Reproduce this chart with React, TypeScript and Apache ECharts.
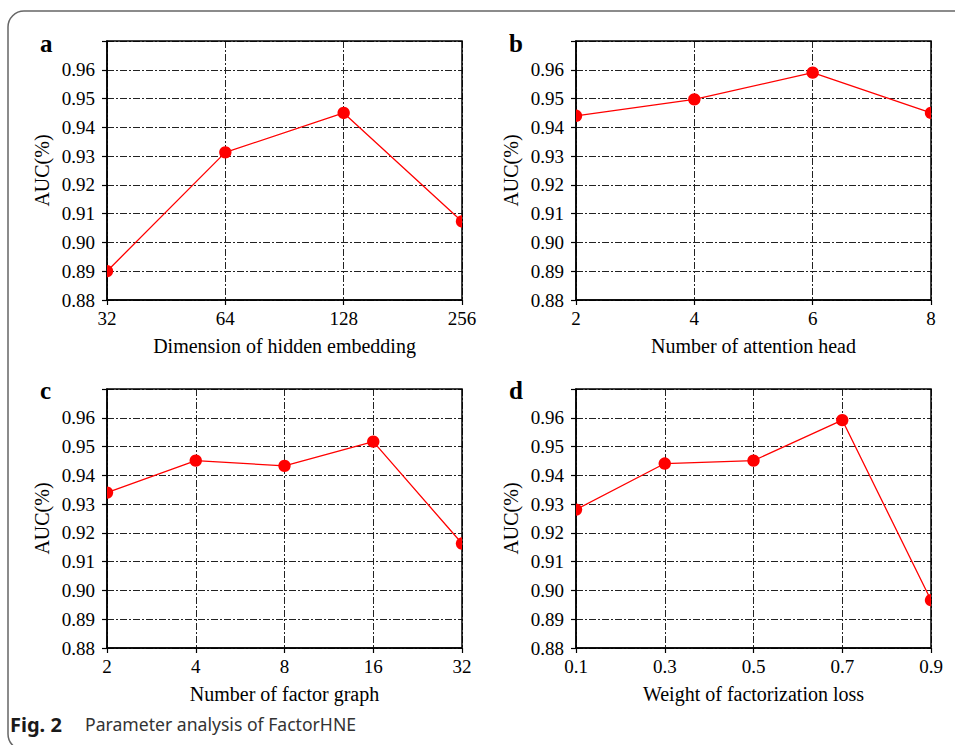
import React, { useEffect, useRef } from "react";
import * as echarts from "echarts";

const aCats = ["32", "64", "128", "256"];
const aVals = [0.89, 0.9313, 0.945, 0.9073];
const bCats = ["2", "4", "6", "8"];
const bVals = [0.944, 0.9497, 0.959, 0.945];
const cCats = ["2", "4", "8", "16", "32"];
const cVals = [0.934, 0.9451, 0.9433, 0.9517, 0.9163];
const dCats = ["0.1", "0.3", "0.5", "0.7", "0.9"];
const dVals = [0.9281, 0.9441, 0.9451, 0.9592, 0.8966];

const xNames = [
  "Dimension of hidden embedding",
  "Number of attention head",
  "Number of factor graph",
  "Weight of factorization loss",
];
const panelLetters = ["a", "b", "c", "d"];
const yMin = 0.88;
const yMax = 0.97;
const yStep = 0.01;

const SERIF = "'Liberation Serif', 'DejaVu Serif', serif";
const SANS = "'Noto Sans', 'Open Sans', sans-serif";

export default function App() {
  const ref = useRef<HTMLDivElement>(null);
  useEffect(() => {
    if (!ref.current) return;
    const chart = echarts.init(ref.current, null, { renderer: "svg" });
    const cats = [aCats, bCats, cCats, dCats];
    const vals = [aVals, bVals, cVals, dVals];
    const grids = [
      { left: 107, top: 41, width: 355, height: 259 },
      { left: 576, top: 41, width: 355, height: 259 },
      { left: 107, top: 389, width: 355, height: 259 },
      { left: 576, top: 389, width: 355, height: 259 },
    ];
    const gridLine = {
      show: true,
      lineStyle: { color: "#222", width: 1, type: [7, 2, 2, 2] as any },
    };
    const option: any = {
      animation: false,
      grid: grids.map((g) => ({
        ...g,
        show: true,
        borderColor: "#000",
        borderWidth: 1.5,
        backgroundColor: "transparent",
        z: 3,
      })),
      xAxis: cats.map((c, i) => ({
        type: "category",
        gridIndex: i,
        data: c,
        boundaryGap: false,
        name: xNames[i],
        nameLocation: "middle",
        nameGap: 36,
        nameTextStyle: { fontFamily: SERIF, fontSize: 20, color: "#000" },
        axisLine: { show: true, lineStyle: { color: "#000", width: 1.5 } },
        axisTick: { show: true, inside: false, length: 5, lineStyle: { color: "#000", width: 1.2 } },
        axisLabel: { fontFamily: SERIF, fontSize: 19, color: "#000", margin: 9, showMaxLabel: true, showMinLabel: true, interval: 0 },
        splitLine: gridLine,
      })),
      yAxis: cats.map((_, i) => ({
        type: "value",
        gridIndex: i,
        min: yMin,
        max: yMax,
        interval: yStep,
        name: "AUC(%)",
        nameLocation: "middle",
        nameGap: 55,
        nameTextStyle: { fontFamily: SERIF, fontSize: 20, color: "#000" },
        axisLine: { show: true, lineStyle: { color: "#000", width: 1.5 } },
        axisTick: { show: true, inside: false, length: 5, lineStyle: { color: "#000", width: 1.2 } },
        axisLabel: {
          fontFamily: SERIF,
          fontSize: 19,
          color: "#000",
          margin: 12,
          formatter: (v: number) => (v > yMax - yStep / 2 ? "" : v.toFixed(2)),
        },
        splitLine: gridLine,
      })),
      series: [
        ...vals.map((v, i) => ({
          type: "line",
          xAxisIndex: i,
          yAxisIndex: i,
          data: v,
          showSymbol: false,
          symbol: "none",
          clip: true,
          lineStyle: { color: "#ff0000", width: 1.3 },
          z: 4,
        })),
        ...vals.map((v, i) => ({
          type: "custom",
          xAxisIndex: i,
          yAxisIndex: i,
          clip: true,
          data: v.map((y, k) => [k, y]),
          encode: { x: 0, y: 1 },
          renderItem: (params: any, api: any) => {
            const p = api.coord([api.value(0), api.value(1)]);
            return {
              type: "circle",
              shape: { cx: p[0], cy: p[1], r: 6.2 },
              style: { fill: "#ff0000", stroke: "none" },
            };
          },
          z: 5,
        })),
      ],
      graphic: [
        {
          type: "rect",
          shape: { x: 8, y: 11, width: 1200, height: 739, r: 16 },
          style: { fill: "none", stroke: "#666", lineWidth: 1.5 },
          silent: true,
        },
        ...panelLetters.map((t, i) => ({
          type: "text",
          x: i % 2 === 0 ? 40 : 509,
          y: i < 2 ? 31 : 378,
          style: {
            text: t,
            font: `bold 25px ${SERIF}`,
            fill: "#000",
          },
        })),
        {
          type: "text",
          x: 10,
          y: 714,
          style: { text: "Fig. 2", font: `bold 20px ${SANS}`, fill: "#1a1a1a" },
        },
        {
          type: "text",
          x: 85,
          y: 715,
          style: { text: "Parameter analysis of FactorHNE", font: `17.6px ${SANS}`, fill: "#333" },
        },
      ],
    };
    chart.setOption(option);
    return () => chart.dispose();
  }, []);
  return (
    <div
      ref={ref}
      style={{ position: "fixed", left: 0, top: 0, width: 955, height: 745, background: "#fff" }}
    />
  );
}
